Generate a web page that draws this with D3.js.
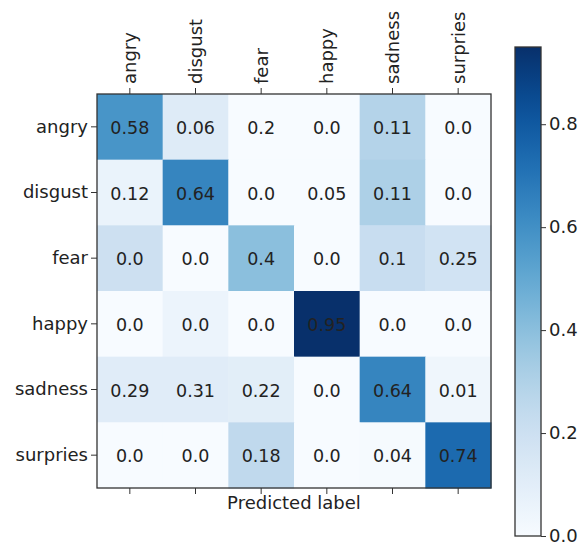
<!DOCTYPE html>
<html>
<head>
<meta charset="utf-8">
<script src="https://cdn.jsdelivr.net/npm/d3@7"></script>
<style>
  html, body { margin: 0; padding: 0; background: #fff; }
  svg { display: block; }
  text { font-family: "DejaVu Sans", sans-serif; fill: #222; }
</style>
</head>
<body>
<svg id="chart" width="583" height="548"></svg>
<script>
// ---- data ----
const labels = ["angry", "disgust", "fear", "happy", "sadness", "surpries"];
// printed values, rows = true label, columns = predicted label
const rowAngry    = [0.58, 0.06, 0.2, 0.0, 0.11, 0.0];
const rowDisgust  = [0.12, 0.64, 0.0, 0.05, 0.11, 0.0];
const rowFear     = [0.0, 0.0, 0.4, 0.0, 0.1, 0.25];
const rowHappy    = [0.0, 0.0, 0.0, 0.95, 0.0, 0.0];
const rowSadness  = [0.29, 0.31, 0.22, 0.0, 0.64, 0.01];
const rowSurpries = [0.0, 0.0, 0.18, 0.0, 0.04, 0.74];
const matrix = [rowAngry, rowDisgust, rowFear, rowHappy, rowSadness, rowSurpries];
const colorbarTicks = [0.0, 0.2, 0.4, 0.6, 0.8];
const xTitle = "Predicted label";

// ---- layout ----
const svg = d3.select("#chart");
const mLeft = 97, mTop = 94, mSize = 394;
const labelFont = "18px", cellFont = "17.5px";
const x = d3.scaleBand().domain(labels).range([mLeft, mLeft + mSize]);
const y = d3.scaleBand().domain(labels).range([mTop, mTop + mSize]);
const vmax = d3.max(matrix.flat());
const color = d3.scaleSequential(d3.interpolateBlues).domain([0, vmax]);

const fmt = v => Number.isInteger(Math.round(v * 1000) / 100) ? v.toFixed(1) : String(v);

// cells (the reference colours each cell by the transposed entry)
const cells = [];
labels.forEach((r, i) => labels.forEach((c, j) => {
  cells.push({ row: r, col: c, text: matrix[i][j], shade: matrix[j][i] });
}));

const g = svg.append("g");
g.selectAll("rect.cell").data(cells).join("rect")
  .attr("class", "cell")
  .attr("x", d => x(d.col))
  .attr("y", d => y(d.row))
  .attr("width", x.bandwidth() + 0.5)
  .attr("height", y.bandwidth() + 0.5)
  .attr("fill", d => color(d.shade));

g.selectAll("text.val").data(cells).join("text")
  .attr("class", "val")
  .attr("x", d => x(d.col) + x.bandwidth() / 2)
  .attr("y", d => y(d.row) + y.bandwidth() / 2 + 1)
  .attr("text-anchor", "middle")
  .attr("dominant-baseline", "central")
  .style("font-size", cellFont)
  .text(d => fmt(d.text));

// frame
g.append("rect")
  .attr("x", mLeft).attr("y", mTop).attr("width", mSize).attr("height", mSize)
  .attr("fill", "none").attr("stroke", "#333").attr("stroke-width", 1.3);

// axes
const axTop = d3.axisTop(x).tickSize(6);
const gTop = svg.append("g").attr("transform", `translate(0,${mTop})`).call(axTop);
gTop.select(".domain").remove();
gTop.selectAll("line").attr("stroke", "#333");
gTop.selectAll("text")
  .style("font-size", labelFont)
  .attr("text-anchor", "start")
  .attr("dominant-baseline", "central")
  .attr("x", 0).attr("y", 0).attr("dy", null)
  .attr("transform", "translate(0,-10) rotate(-90)");

const axBottom = d3.axisBottom(x).tickSize(6).tickFormat("");
const gBot = svg.append("g").attr("transform", `translate(0,${mTop + mSize})`).call(axBottom);
gBot.select(".domain").remove();
gBot.selectAll("line").attr("stroke", "#333");

const axLeft = d3.axisLeft(y).tickSize(6).tickPadding(3);
const gLeft = svg.append("g").attr("transform", `translate(${mLeft},0)`).call(axLeft);
gLeft.select(".domain").remove();
gLeft.selectAll("line").attr("stroke", "#333");
gLeft.selectAll("text").style("font-size", labelFont);

svg.append("text")
  .attr("x", mLeft + mSize / 2)
  .attr("y", mTop + mSize + 21)
  .attr("text-anchor", "middle")
  .style("font-size", labelFont)
  .text(xTitle);

// colorbar
const cbX = 515, cbW = 26, cbTop = 47, cbBottom = 536;
const cbScale = d3.scaleLinear().domain([0, vmax]).range([cbBottom, cbTop]);
const defs = svg.append("defs");
const grad = defs.append("linearGradient").attr("id", "cbgrad")
  .attr("x1", 0).attr("y1", 1).attr("x2", 0).attr("y2", 0);
d3.range(0, 1.0001, 0.05).forEach(t => {
  grad.append("stop").attr("offset", t).attr("stop-color", color(t * vmax));
});
svg.append("rect")
  .attr("x", cbX).attr("y", cbTop).attr("width", cbW).attr("height", cbBottom - cbTop)
  .attr("fill", "url(#cbgrad)").attr("stroke", "#333").attr("stroke-width", 1.3);
const axCb = d3.axisRight(cbScale).tickValues(colorbarTicks).tickFormat(d3.format(".1f")).tickSize(5).tickPadding(3);
const gCb = svg.append("g").attr("transform", `translate(${cbX + cbW},0)`).call(axCb);
gCb.select(".domain").remove();
gCb.selectAll("line").attr("stroke", "#333");
gCb.selectAll("text").style("font-size", labelFont);
</script>
</body>
</html>
